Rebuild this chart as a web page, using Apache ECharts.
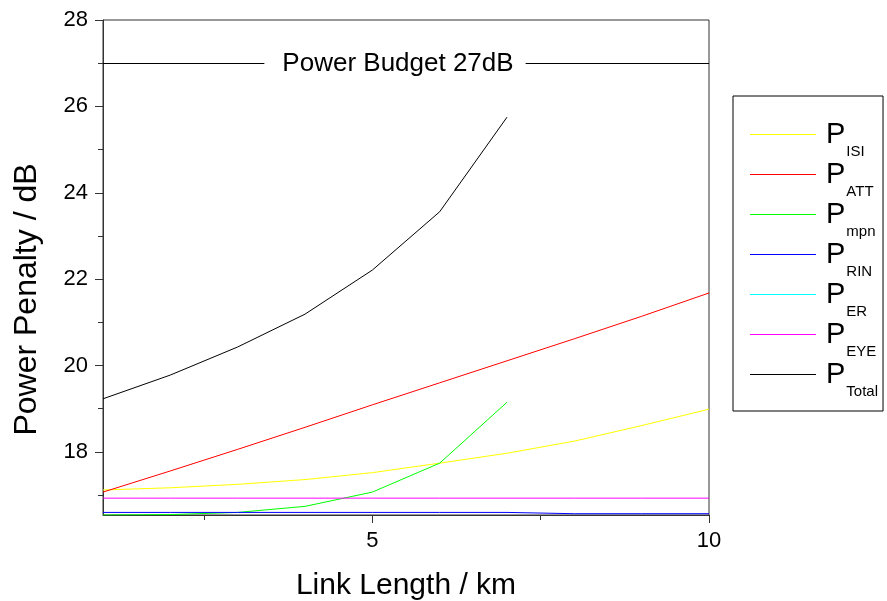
<!DOCTYPE html>
<html><head><meta charset="utf-8">
<script src="https://cdn.jsdelivr.net/npm/echarts@6/dist/echarts.min.js"></script>
<style>html,body{margin:0;padding:0;background:#fff}#c{width:887px;height:601px}</style>
</head><body><div id="c"></div>
<script>
const lengthKm = [1, 2, 3, 4, 5, 6, 7, 8, 9, 10];
const pISI   = [17.12, 17.17, 17.25, 17.36, 17.52, 17.74, 17.97, 18.25, 18.61, 18.99];
const pATT   = [17.07, 17.56, 18.06, 18.57, 19.09, 19.60, 20.11, 20.62, 21.14, 21.68];
const pMPN   = [16.54, 16.55, 16.60, 16.74, 17.07, 17.74, 19.15, null, null, null];
const pRIN   = [16.60, 16.60, 16.60, 16.60, 16.60, 16.60, 16.60, 16.57, 16.57, 16.57];
const pER    = [16.50, 16.50, 16.50, 16.50, 16.50, 16.50, 16.50, 16.50, 16.50, 16.50];
const pEYE   = [16.93, 16.93, 16.93, 16.93, 16.93, 16.93, 16.93, 16.93, 16.93, 16.93];
const pTotal = [19.23, 19.78, 20.43, 21.19, 22.21, 23.56, 25.75, null, null, null];
const powerBudget = 27;
const seriesNames = ['ISI', 'ATT', 'mpn', 'RIN', 'ER', 'EYE', 'Total'];
const seriesColors = ['#ffff00', '#ff0000', '#00ff00', '#0000ff', '#00ffff', '#ff00ff', '#000000'];
const seriesValues = [pISI, pATT, pMPN, pRIN, pER, pEYE, pTotal];
const xMajorTicks = [5, 10];
const xMinorTicks = [2.5, 7.5];
const yMajorTicks = [18, 20, 22, 24, 26, 28];
const yMinorTicks = [17, 19, 21, 23, 25, 27];

const font = 'Liberation Sans, Arial, sans-serif';
const chart = echarts.init(document.getElementById('c'));

const series = seriesNames.map((n, i) => ({
  name: n, type: 'line', symbol: 'none', showSymbol: false,
  lineStyle: { color: seriesColors[i], width: 1 },
  itemStyle: { color: seriesColors[i] },
  data: lengthKm.map((x, j) => [x, seriesValues[i][j]]).filter(d => d[1] !== null),
  animation: false, z: 3
}));
series[6].markLine = {
  silent: true, symbol: ['none', 'none'],
  lineStyle: { color: '#000', width: 1, type: 'solid' },
  label: {
    show: true, position: 'middle', formatter: 'Power Budget 27dB',
    color: '#000', fontSize: 26, lineHeight: 26, fontFamily: font,
    backgroundColor: '#fff', padding: [2, 12, 2, 18], offset: [-11, 21]
  },
  data: [{ yAxis: powerBudget }]
};

const legendIcon = 'path://M0,0M0,22L66,22L66,23L0,23Z';

chart.setOption({
  animation: false,
  backgroundColor: '#fff',
  grid: { left: 103, right: 178, top: 20, bottom: 86, show: true, borderColor: '#333', borderWidth: 1,
          containLabel: false, outerBoundsMode: 'none' },
  xAxis: [{
    type: 'value', min: 1, max: 10,
    name: 'Link Length / km', nameLocation: 'middle', nameGap: 56,
    nameTextStyle: { fontSize: 30, fontFamily: font, color: '#000' },
    axisLine: { show: true, lineStyle: { color: '#333', width: 1 } },
    axisTick: { show: true, length: 8, customValues: xMajorTicks, lineStyle: { color: '#333' } },
    axisLabel: { customValues: xMajorTicks, fontSize: 22, fontFamily: font, color: '#000', margin: 15 },
    splitLine: { show: false }
  }, {
    type: 'value', min: 1, max: 10, position: 'bottom',
    axisLine: { show: false },
    axisTick: { show: true, length: 5, customValues: xMinorTicks, lineStyle: { color: '#333' } },
    axisLabel: { show: false }, splitLine: { show: false }
  }],
  yAxis: [{
    type: 'value', min: 16.54, max: 28,
    name: 'Power Penalty / dB', nameLocation: 'middle', nameGap: 60,
    nameTextStyle: { fontSize: 32, fontFamily: font, color: '#000', padding: [0, 64, 0, 0] },
    axisLine: { show: true, lineStyle: { color: '#333', width: 1 } },
    axisTick: { show: true, length: 8, customValues: yMajorTicks, lineStyle: { color: '#333' } },
    axisLabel: { customValues: yMajorTicks, fontSize: 22, fontFamily: font, color: '#000', margin: 15 },
    splitLine: { show: false }
  }, {
    type: 'value', min: 16.54, max: 28, position: 'left',
    axisLine: { show: false },
    axisTick: { show: true, length: 5, customValues: yMinorTicks, lineStyle: { color: '#333' } },
    axisLabel: { show: false }, splitLine: { show: false }
  }],
  legend: {
    orient: 'vertical', left: 733, top: 96,
    data: seriesNames.map((n, i) => ({
      name: n, icon: legendIcon,
      itemStyle: { color: seriesColors[i], borderWidth: 0, opacity: 1 }
    })),
    borderColor: '#000', borderWidth: 1,
    padding: [13, 5, 12, 17],
    itemWidth: 66, itemHeight: 23, itemGap: -10,
    lineStyle: { width: 0 },
    formatter: n => '{p|P}{s|' + n + '}',
    textStyle: {
      fontFamily: font, color: '#000',
      rich: {
        p: { fontSize: 29, fontFamily: font, color: '#000', lineHeight: 29, verticalAlign: 'top', padding: [11, 0, 0, 5] },
        s: { fontSize: 15, fontFamily: font, color: '#000', lineHeight: 15, verticalAlign: 'top', padding: [35, 0, 0, 1] }
      }
    }
  },
  series: series
});
</script></body></html>
